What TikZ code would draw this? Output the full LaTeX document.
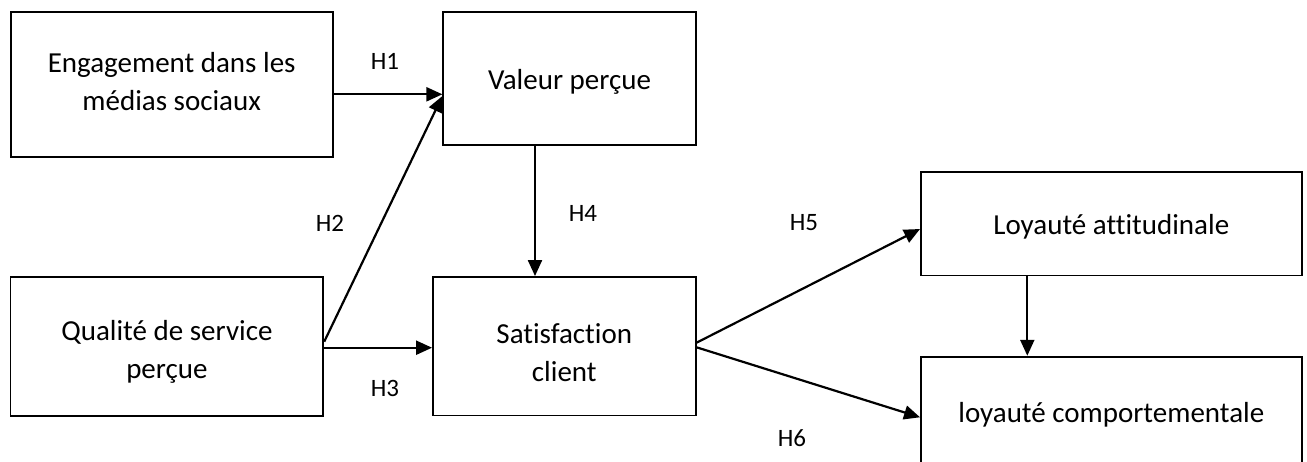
\documentclass[tikz,border=0pt]{standalone}
\usepackage{fontspec}
\setmainfont{Carlito}[Ligatures=NoCommon]
\usetikzlibrary{arrows.meta}
\begin{document}
\begin{tikzpicture}[x=1pt,y=-1pt,
  box/.style={draw, line width=1.8pt, inner sep=0pt},
  boxtext/.style={align=center, inner sep=0pt,
    font=\fontsize{29}{38}\selectfont},
  hyp/.style={inner sep=0pt, font=\fontsize{25}{30}\selectfont},
  link/.style={line width=2.2pt, -{Triangle[length=16pt,width=14pt]}}]
\clip (0,0) rectangle (1307,461);

% constructs
\node[box, minimum width=322pt, minimum height=145.3pt,
  label={[boxtext, yshift=2.5pt]center:{Engagement dans les\\médias sociaux}}]
  (eng) at (171.7,84.3) {};
\node[box, minimum width=252.4pt, minimum height=133.6pt,
  label={[boxtext, yshift=-3pt]center:{Valeur perçue}}]
  (val) at (569.5,78.5) {};
\node[box, minimum width=312.8pt, minimum height=139pt,
  label={[boxtext, yshift=-6pt]center:{Qualité de service\\perçue}}]
  (qual) at (166.9,346.2) {};
\node[box, minimum width=262.7pt, minimum height=138.5pt,
  label={[boxtext, yshift=-6pt]center:{Satisfaction\\client}}]
  (sat) at (564.3,346.2) {};
\node[box, minimum width=380.7pt, minimum height=103.8pt,
  label={[boxtext, yshift=-3.5pt]center:{Loyauté attitudinale}}]
  (att) at (1111.3,223.6) {};
\node[box, minimum width=380.7pt, minimum height=110.3pt,
  label={[boxtext, yshift=-2.5pt]center:{loyauté comportementale}}]
  (comp) at (1111.3,411.8) {};

% hypotheses
\node[hyp] (h1) at (385,61) {H1};
\node[hyp] (h2) at (330,223) {H2};
\node[hyp] (h3) at (385,388) {H3};
\node[hyp] (h4) at (583,213) {H4};
\node[hyp] (h5) at (804,223) {H5};
\node[hyp] (h6) at (792,438) {H6};

% paths
\draw[link] ([yshift=-10pt]eng.east) -- ([yshift=-15.8pt]val.west);
\draw[link] ([yshift=4.5pt]qual.east) -- ([yshift=-17.5pt]val.west);
\draw[link] ([yshift=-1.5pt]qual.east) -- ([yshift=-1.5pt]sat.west);
\draw[link] ([xshift=-34.5pt]val.south) -- ([xshift=-29.3pt]sat.north);
\draw[link] ([yshift=3.5pt]sat.east) -- ([yshift=-5.4pt]att.west);
\draw[link] ([yshift=-1.1pt]sat.east) -- ([yshift=-5.5pt]comp.west);
\draw[link] ([xshift=-84pt]att.south) -- ([xshift=-84pt]comp.north);
\end{tikzpicture}
\end{document}
